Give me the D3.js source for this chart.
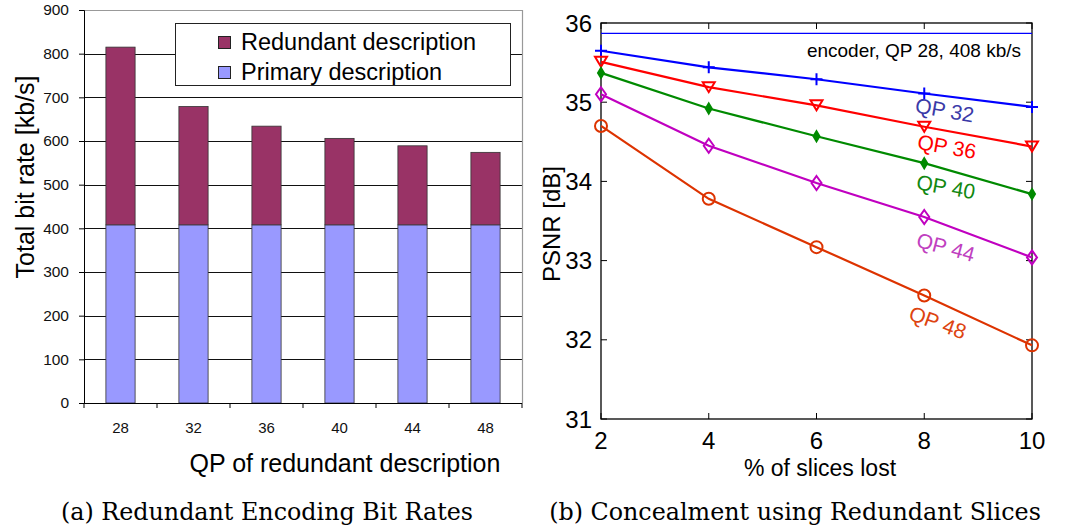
<!DOCTYPE html>
<html>
<head>
<meta charset="utf-8">
<script src="https://cdn.jsdelivr.net/npm/d3@7"></script>
<style>
  body { margin: 0; background: #fff; }
  svg { display: block; }
  text { font-family: "Liberation Sans", Arial, sans-serif; }
  .caption { font-family: "DejaVu Serif", "Liberation Serif", serif; }
</style>
</head>
<body>
<div id="chart"></div>
<script>
// ---- data for (a): bit rates per QP of the redundant description
const qpCategories = ["28", "32", "36", "40", "44", "48"]
const primaryRate = [408, 408, 408, 408, 408, 408]
const totalRate = [815, 679, 634, 606, 589, 574]
const barTicks = [0, 100, 200, 300, 400, 500, 600, 700, 800, 900]

// ---- data for (b): PSNR vs % slices lost
const slicesLost = [2, 4, 6, 8, 10]
const encoderPSNR = 35.87
const psnrQP32 = [35.65, 35.44, 35.29, 35.11, 34.94]
const psnrQP36 = [35.51, 35.19, 34.96, 34.69, 34.44]
const psnrQP40 = [35.37, 34.92, 34.57, 34.23, 33.84]
const psnrQP44 = [35.10, 34.45, 33.98, 33.55, 33.04]
const psnrQP48 = [34.70, 33.78, 33.17, 32.56, 31.93]
const psnrTicks = [31, 32, 33, 34, 35, 36]
const lostTicks = [2, 4, 6, 8, 10]

const svg = d3.select("#chart").append("svg")
    .attr("width", 1086)
    .attr("height", 529)

// =================== (a) stacked bars ===================
let a = {left: 84, right: 522, top: 10, bottom: 403}

let xBand = d3.scaleBand()
    .domain(qpCategories)
    .range([a.left, a.right])
    .padding(0)

let yRate = d3.scaleLinear()
    .domain([0, 900])
    .range([a.bottom, a.top])

// grid lines
svg.append("g")
    .selectAll("line")
    .data(barTicks.filter(t => t > 0 && t < 900))
    .join("line")
    .attr("x1", a.left).attr("x2", a.right)
    .attr("y1", d => Math.round(yRate(d)) + 0.5)
    .attr("y2", d => Math.round(yRate(d)) + 0.5)
    .attr("stroke", "#111")
    .attr("stroke-width", 1)

// gray frame top/right
svg.append("path")
    .attr("d", `M${a.left},${a.top + 0.5}H${a.right + 0.5}V${a.bottom}`)
    .attr("fill", "none")
    .attr("stroke", "#999")
    .attr("stroke-width", 1.2)

let barW = xBand.bandwidth() * 0.4

// primary part
svg.append("g")
    .selectAll("rect")
    .data(qpCategories)
    .join("rect")
    .attr("x", d => xBand(d) + (xBand.bandwidth() - barW) / 2)
    .attr("width", barW)
    .attr("y", (d, i) => yRate(primaryRate[i]))
    .attr("height", (d, i) => yRate(0) - yRate(primaryRate[i]))
    .attr("fill", "#9999ff")
    .attr("stroke", "#333")
    .attr("stroke-width", 0.8)

// redundant part
svg.append("g")
    .selectAll("rect")
    .data(qpCategories)
    .join("rect")
    .attr("x", d => xBand(d) + (xBand.bandwidth() - barW) / 2)
    .attr("width", barW)
    .attr("y", (d, i) => yRate(totalRate[i]))
    .attr("height", (d, i) => yRate(primaryRate[i]) - yRate(totalRate[i]))
    .attr("fill", "#993366")
    .attr("stroke", "#333")
    .attr("stroke-width", 0.8)

// y axis
let yAxisA = svg.append("g")
    .attr("transform", `translate(${a.left},0)`)
    .call(d3.axisLeft(yRate).tickValues(barTicks).tickSize(5).tickPadding(10))
yAxisA.select(".domain").attr("stroke", "#000")
yAxisA.selectAll("text").attr("font-size", 15.5).attr("fill", "#111")

// x axis: ticks at band boundaries, labels at band centers
svg.append("line")
    .attr("x1", a.left).attr("x2", a.right)
    .attr("y1", a.bottom + 0.5).attr("y2", a.bottom + 0.5)
    .attr("stroke", "#000")
svg.append("g")
    .selectAll("line")
    .data(qpCategories.concat(["end"]))
    .join("line")
    .attr("x1", d => d === "end" ? a.right : xBand(d))
    .attr("x2", d => d === "end" ? a.right : xBand(d))
    .attr("y1", a.bottom)
    .attr("y2", a.bottom + 5)
    .attr("stroke", "#000")
svg.append("g")
    .selectAll("text")
    .data(qpCategories)
    .join("text")
    .attr("x", d => xBand(d) + xBand.bandwidth() / 2)
    .attr("y", 433)
    .attr("text-anchor", "middle")
    .attr("font-size", 15)
    .attr("fill", "#111")
    .text(d => d)

svg.append("text")
    .attr("x", 345).attr("y", 472)
    .attr("text-anchor", "middle")
    .attr("font-size", 25)
    .text("QP of redundant description")

svg.append("text")
    .attr("transform", "translate(34,177) rotate(-90)")
    .attr("text-anchor", "middle")
    .attr("font-size", 25)
    .text("Total bit rate [kb/s]")

// legend
let legend = svg.append("g")
legend.append("rect")
    .attr("x", 175.5).attr("y", 23.5)
    .attr("width", 335).attr("height", 62)
    .attr("fill", "#fff")
    .attr("stroke", "#222")
let legendItems = [
    {name: "Redundant description", color: "#993366"},
    {name: "Primary description", color: "#9999ff"}
]
legendItems.forEach((item, i) => {
    legend.append("rect")
        .attr("x", 218.5).attr("y", 36.5 + i * 30)
        .attr("width", 12).attr("height", 12)
        .attr("fill", item.color)
        .attr("stroke", "#222")
    legend.append("text")
        .attr("x", 241).attr("y", 50 + i * 30)
        .attr("font-size", 23.5)
        .text(item.name)
})

svg.append("text")
    .attr("class", "caption")
    .attr("x", 267).attr("y", 520)
    .attr("text-anchor", "middle")
    .attr("font-size", 23.8)
    .text("(a) Redundant Encoding Bit Rates")

// =================== (b) PSNR lines ===================
let b = {left: 601, right: 1032, top: 23, bottom: 419}

let xLost = d3.scaleLinear().domain([2, 10]).range([b.left, b.right])
let yPsnr = d3.scaleLinear().domain([31, 36]).range([b.bottom, b.top])

// frame
svg.append("rect")
    .attr("x", b.left).attr("y", b.top)
    .attr("width", b.right - b.left).attr("height", b.bottom - b.top)
    .attr("fill", "none")
    .attr("stroke", "#000")
    .attr("stroke-width", 1.3)

// inward ticks on all sides
let tickLen = 6
let tk = svg.append("g").attr("stroke", "#000").attr("stroke-width", 1)
lostTicks.forEach(t => {
    tk.append("line").attr("x1", xLost(t)).attr("x2", xLost(t))
        .attr("y1", b.bottom).attr("y2", b.bottom - tickLen)
    tk.append("line").attr("x1", xLost(t)).attr("x2", xLost(t))
        .attr("y1", b.top).attr("y2", b.top + tickLen)
})
psnrTicks.forEach(t => {
    tk.append("line").attr("x1", b.left).attr("x2", b.left + tickLen)
        .attr("y1", yPsnr(t)).attr("y2", yPsnr(t))
    tk.append("line").attr("x1", b.right).attr("x2", b.right - tickLen)
        .attr("y1", yPsnr(t)).attr("y2", yPsnr(t))
})

svg.append("g")
    .selectAll("text")
    .data(psnrTicks)
    .join("text")
    .attr("x", 592)
    .attr("y", d => yPsnr(d) + 8.5)
    .attr("text-anchor", "end")
    .attr("font-size", 24)
    .text(d => d)

svg.append("g")
    .selectAll("text")
    .data(lostTicks)
    .join("text")
    .attr("x", d => xLost(d))
    .attr("y", 449)
    .attr("text-anchor", "middle")
    .attr("font-size", 24)
    .text(d => d)

svg.append("text")
    .attr("x", 820).attr("y", 476)
    .attr("text-anchor", "middle")
    .attr("font-size", 23)
    .text("% of slices lost")

svg.append("text")
    .attr("transform", "translate(560,224) rotate(-90)")
    .attr("text-anchor", "middle")
    .attr("font-size", 24)
    .text("PSNR [dB]")

// encoder reference line
svg.append("line")
    .attr("x1", b.left).attr("x2", b.right)
    .attr("y1", yPsnr(encoderPSNR)).attr("y2", yPsnr(encoderPSNR))
    .attr("stroke", "#0000ff")
    .attr("stroke-width", 1.2)
svg.append("text")
    .attr("x", 1021).attr("y", 57)
    .attr("text-anchor", "end")
    .attr("font-size", 19)
    .text("encoder, QP 28, 408 kb/s")

let series = [
    {name: "QP 32", values: psnrQP32, color: "#0000ff", labelColor: "#3a3aa8", marker: "plus",
     lx: 8.38, ly: 34.90, rot: 10},
    {name: "QP 36", values: psnrQP36, color: "#ff0000", labelColor: "#ff0000", marker: "tri",
     lx: 8.42, ly: 34.44, rot: 10},
    {name: "QP 40", values: psnrQP40, color: "#008a00", labelColor: "#118811", marker: "dot",
     lx: 8.40, ly: 33.93, rot: 10},
    {name: "QP 44", values: psnrQP44, color: "#c000c0", labelColor: "#c040c0", marker: "diamond",
     lx: 8.40, ly: 33.17, rot: 15},
    {name: "QP 48", values: psnrQP48, color: "#dd3300", labelColor: "#dd4411", marker: "circle",
     lx: 8.25, ly: 32.22, rot: 20}
]

let line = d3.line()
    .x((d, i) => xLost(slicesLost[i]))
    .y(d => yPsnr(d))

function markerPath(kind) {
    if (kind === "plus") return "M-6,0H6M0,-6V6"
    if (kind === "tri") return "M-6,-5H6L0,5Z"
    if (kind === "dot") return "M0,-5L3,0L0,5L-3,0Z"
    if (kind === "diamond") return "M0,-7L5,0L0,7L-5,0Z"
    return d3.arc()({innerRadius: 0, outerRadius: 6, startAngle: 0, endAngle: 2 * Math.PI})
}

series.forEach(s => {
    svg.append("path")
        .attr("d", line(s.values))
        .attr("fill", "none")
        .attr("stroke", s.color)
        .attr("stroke-width", 2.2)

    svg.append("g")
        .selectAll("path")
        .data(s.values)
        .join("path")
        .attr("transform", (d, i) => `translate(${xLost(slicesLost[i])},${yPsnr(d)})`)
        .attr("d", markerPath(s.marker))
        .attr("fill", s.marker === "dot" ? s.color : "none")
        .attr("stroke", s.color)
        .attr("stroke-width", 2)

    svg.append("text")
        .attr("transform", `translate(${xLost(s.lx)},${yPsnr(s.ly)}) rotate(${s.rot})`)
        .attr("text-anchor", "middle")
        .attr("dy", "0.35em")
        .attr("font-size", 21)
        .attr("fill", s.labelColor)
        .text(s.name)
})

svg.append("text")
    .attr("class", "caption")
    .attr("x", 795).attr("y", 520)
    .attr("text-anchor", "middle")
    .attr("font-size", 23.8)
    .text("(b) Concealment using Redundant Slices")
</script>
</body>
</html>
